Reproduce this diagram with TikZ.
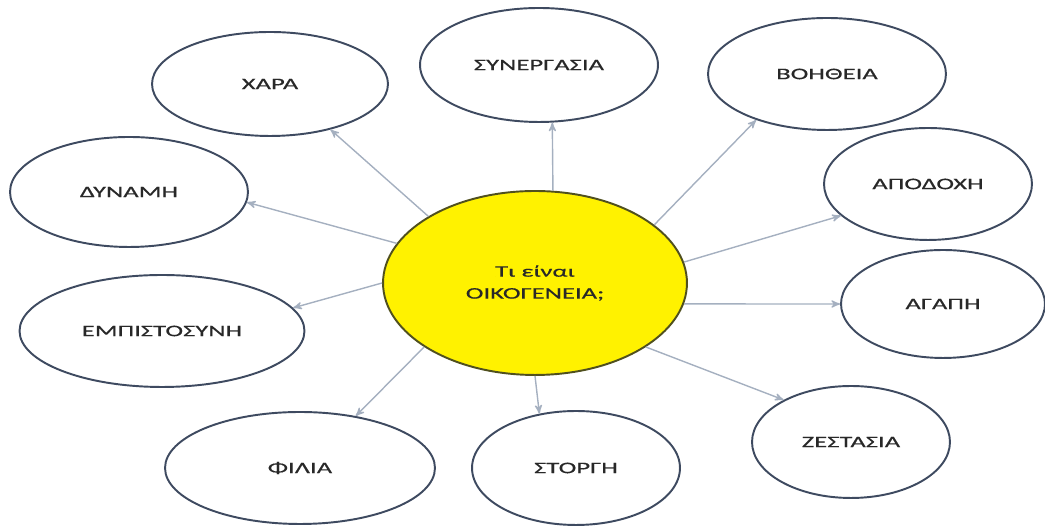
\documentclass[tikz,border=0pt]{standalone}
\usepackage{fontspec}
\newfontfamily\bulfont[FakeStretch=1.65,FakeBold=0.5]{Carlito}
\usepackage{tikz}
\usetikzlibrary{arrows,shapes.geometric}
\definecolor{bordbul}{RGB}{62,74,96}
\definecolor{bordcen}{RGB}{80,80,30}
\definecolor{fleche}{RGB}{165,176,192}
\definecolor{texte}{RGB}{40,40,40}
\tikzset{
  bulle/.style = {ellipse, align=center, inner sep=0pt, text centered,
    font=\bulfont\fontsize{9.2}{12.5}\selectfont, text=texte},
  bul_c/.style = {bulle, draw=bordcen, line width=1.1pt, fill=yellow,
    minimum width=6.08cm, minimum height=3.68cm},% bulle centrale
  bul_o/.style 2 args = {bulle, draw=bordbul, line width=1.1pt, fill=white,
    minimum width=#1, minimum height=#2}% bulle autour
}

\begin{document}
\begin{tikzpicture}[x=0.02cm, y=0.02cm, ->, >=stealth',
  every edge/.style={draw=fleche, line width=0.8pt}]
\useasboundingbox (0,0) rectangle (1045,526);
\node [bul_c] (c) at (535,243) {Τι είναι\\ΟΙΚΟΓΕΝΕΙΑ;};
\node [bul_o={4.72cm}{2.08cm}] (xara) at (270,442) {ΧΑΡΑ};
\node [bul_o={4.76cm}{2.28cm}] (synerg) at (539,461) {ΣΥΝΕΡΓΑΣΙΑ};
\node [bul_o={4.76cm}{2.24cm}] (voith) at (827,452) {ΒΟΗΘΕΙΑ};
\node [bul_o={4.76cm}{2.2cm}] (dynami) at (129,334) {ΔΥΝΑΜΗ};
\node [bul_o={4.16cm}{2.24cm}] (apodoxi) at (928,342) {ΑΠΟΔΟΧΗ};
\node [bul_o={5.7cm}{2.24cm}] (empist) at (162,195) {ΕΜΠΙΣΤΟΣΥΝΗ};
\node [bul_o={4.08cm}{2.16cm}] (agapi) at (943,222) {ΑΓΑΠΗ};
\node [bul_o={3.96cm}{2.24cm}] (zest) at (851,84) {ΖΕΣΤΑΣΙΑ};
\node [bul_o={5.4cm}{2.24cm}] (filia) at (300,58) {ΦΙΛΙΑ};
\node [bul_o={4.16cm}{2.28cm}] (storgi) at (576,58) {ΣΤΟΡΓΗ};

\path (c.148) edge (xara.-37)
      (c.79) edge (synerg.-77)
      (c.26) edge (voith.213)
      (c.164) edge (dynami.-5)
      (c.8) edge (apodoxi.200)
      (c.180) edge (empist.10)
      (c.-8) edge (agapi.west)
      (c.-30) edge (zest.148)
      (c.210) edge (filia.43)
      (c.270) edge (storgi.124);
\end{tikzpicture}
\end{document}
